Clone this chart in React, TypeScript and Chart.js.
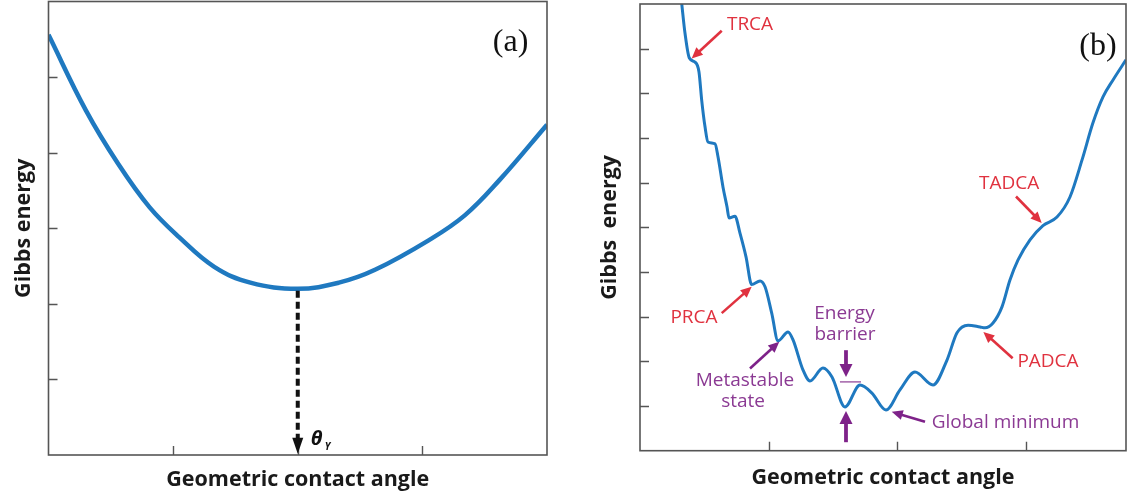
import React, { useEffect, useRef } from 'react';
import { Chart, registerables } from 'chart.js';

Chart.register(...registerables);

// Panel (a): smooth Gibbs energy curve with a single minimum at the Young angle
const angleA = [0, 0.3, 0.56, 0.81, 1.05, 1.33, 1.62, 2.0, 2.33, 2.62, 3.05, 3.34, 3.62, 4.0];
const energyA = [5.56, 4.56, 3.85, 3.28, 2.88, 2.49, 2.28, 2.2, 2.28, 2.45, 2.84, 3.17, 3.64, 4.37];

// Panel (b): rough-surface energy landscape with many metastable states
const angleB = [
  0.325, 0.35, 0.384, 0.428, 0.459, 0.48, 0.506, 0.529, 0.584, 0.607, 0.646, 0.677, 0.693, 0.739,
  0.778, 0.825, 0.869, 0.934, 0.973, 1.025, 1.074, 1.152, 1.191, 1.268, 1.323, 1.424, 1.494, 1.595,
  1.712, 1.805, 1.914, 2.023, 2.14, 2.28, 2.389, 2.467, 2.553, 2.646, 2.685, 2.747, 2.817, 2.879,
  2.942, 3.035, 3.136, 3.245, 3.346, 3.44, 3.525, 3.603, 3.681, 3.782,
];
const energyB = [
  10.0, 9.35, 8.79, 8.7, 8.48, 7.85, 7.25, 6.91, 6.87, 6.58, 5.9, 5.46, 5.21, 5.25,
  4.87, 4.34, 3.72, 3.8, 3.67, 3.08, 2.46, 2.66, 2.48, 1.81, 1.56, 1.85, 1.65, 0.98,
  1.47, 1.29, 0.91, 1.36, 1.76, 1.47, 2.03, 2.64, 2.81, 2.77, 2.75, 2.86, 3.22, 3.82,
  4.27, 4.72, 5.04, 5.23, 5.68, 6.51, 7.34, 7.92, 8.3, 8.75,
];

const xTicksA = [1, 2, 3];
const yTicksA = [1, 2, 3, 4, 5];
const xTicksB = [1, 2, 3];
const yTicksB = [1, 2, 3, 4, 5, 6, 7, 8, 9];

const youngAngle = 2.0;
const youngEnergy = 2.2;

const RED = '#e0323f';
const PURPLE = '#8b3a93';
const PURPLE_DARK = '#7e2289';
const BLUE = '#1f79c0';
const FRAME = '#555555';
const TITLE = '#1a1a1a';
const SANS = '"Open Sans", "Noto Sans", sans-serif';

type Pt = [number, number];
type Label = { text: string; at: Pt; color: string; align?: CanvasTextAlign };
type ArrowDef = { from: Pt; to: Pt; color: string; width: number; head: number; half: number };

const labelsB: Label[] = [
  { text: 'TRCA', at: [0.856, 9.53], color: RED },
  { text: 'PRCA', at: [0.42, 2.97], color: RED },
  { text: 'Metastable', at: [0.817, 1.58], color: PURPLE },
  { text: 'state', at: [0.802, 1.11], color: PURPLE },
  { text: 'Energy', at: [1.591, 3.08], color: PURPLE },
  { text: 'barrier', at: [1.595, 2.59], color: PURPLE },
  { text: 'Global minimum', at: [2.27, 0.64], color: PURPLE, align: 'left' },
  { text: 'PADCA', at: [3.175, 1.99], color: RED },
  { text: 'TADCA', at: [2.872, 5.99], color: RED },
];

const arrowsB: ArrowDef[] = [
  { from: [0.636, 9.4], to: [0.402, 8.78], color: RED, width: 2.6, head: 11, half: 5 },
  { from: [0.636, 3.08], to: [0.869, 3.67], color: RED, width: 2.6, head: 11, half: 5 },
  { from: [0.856, 1.84], to: [1.084, 2.44], color: PURPLE_DARK, width: 2.6, head: 11, half: 5 },
  { from: [2.218, 0.65], to: [1.959, 0.87], color: PURPLE_DARK, width: 2.6, head: 11, half: 5 },
  { from: [2.9, 2.07], to: [2.672, 2.66], color: RED, width: 2.6, head: 11, half: 5 },
  { from: [2.926, 5.69], to: [3.126, 5.1], color: RED, width: 2.6, head: 11, half: 5 },
  { from: [1.603, 2.25], to: [1.603, 1.65], color: PURPLE_DARK, width: 3.8, head: 13, half: 6.5 },
  { from: [1.603, 0.19], to: [1.603, 0.89], color: PURPLE_DARK, width: 3.8, head: 13, half: 6.5 },
];

const barrierLine: [Pt, Pt] = [[1.556, 1.54], [1.72, 1.54]];

function drawArrow(
  ctx: CanvasRenderingContext2D,
  x1: number, y1: number, x2: number, y2: number,
  color: string, width: number, head: number, half: number,
) {
  const ang = Math.atan2(y2 - y1, x2 - x1);
  const bx = x2 - head * Math.cos(ang);
  const by = y2 - head * Math.sin(ang);
  ctx.save();
  ctx.strokeStyle = color;
  ctx.fillStyle = color;
  ctx.lineWidth = width;
  ctx.beginPath();
  ctx.moveTo(x1, y1);
  ctx.lineTo(bx + Math.cos(ang), by + Math.sin(ang));
  ctx.stroke();
  ctx.beginPath();
  ctx.moveTo(x2, y2);
  ctx.lineTo(bx + half * Math.sin(ang), by - half * Math.cos(ang));
  ctx.lineTo(bx - half * Math.sin(ang), by + half * Math.cos(ang));
  ctx.closePath();
  ctx.fill();
  ctx.restore();
}

type PanelOpts = {
  xTicks: number[];
  yTicks: number[];
  tag: string;
  tagAt: Pt;
  yTitle: string;
  yTitleOffset: number;
  xTitleOffset: number;
  extra?: (chart: Chart, px: (v: number) => number, py: (v: number) => number) => void;
};

function framePlugin(o: PanelOpts) {
  return {
    id: 'panelFrame',
    afterDatasetsDraw(chart: Chart) {
      const ctx = chart.ctx;
      const area = chart.chartArea;
      const xs = chart.scales.x;
      const ys = chart.scales.y;
      const px = (v: number) => xs.getPixelForValue(v);
      const py = (v: number) => ys.getPixelForValue(v);

      ctx.save();
      // box frame
      ctx.strokeStyle = FRAME;
      ctx.lineWidth = 1.6;
      ctx.strokeRect(area.left, area.top, area.right - area.left, area.bottom - area.top);
      // inward tick marks
      ctx.lineWidth = 1.4;
      ctx.beginPath();
      o.xTicks.forEach((t) => {
        const x = Math.round(px(t)) + 0.5;
        ctx.moveTo(x, area.bottom);
        ctx.lineTo(x, area.bottom - 9);
      });
      o.yTicks.forEach((t) => {
        const y = Math.round(py(t)) + 0.5;
        ctx.moveTo(area.left, y);
        ctx.lineTo(area.left + 9, y);
      });
      ctx.stroke();

      // axis titles
      ctx.fillStyle = TITLE;
      ctx.font = `bold 21.5px ${SANS}`;
      ctx.textAlign = 'center';
      ctx.textBaseline = 'middle';
      ctx.fillText('Geometric contact angle', (area.left + area.right) / 2, area.bottom + o.xTitleOffset);
      ctx.save();
      ctx.translate(area.left - o.yTitleOffset, (area.top + area.bottom) / 2);
      ctx.rotate(-Math.PI / 2);
      ctx.fillText(o.yTitle, 0, 0);
      ctx.restore();

      // panel tag
      ctx.font = `32px "Liberation Serif", "DejaVu Serif", serif`;
      ctx.fillStyle = '#111';
      ctx.fillText(o.tag, px(o.tagAt[0]), py(o.tagAt[1]));

      if (o.extra) o.extra(chart, px, py);
      ctx.restore();
    },
  };
}

function extraA(chart: Chart, px: (v: number) => number, py: (v: number) => number) {
  const ctx = chart.ctx;
  const x = px(youngAngle);
  const yTop = py(youngEnergy) + 2;
  const yTip = py(0.015);
  ctx.save();
  ctx.strokeStyle = '#111';
  ctx.fillStyle = '#111';
  ctx.lineWidth = 4;
  ctx.setLineDash([7, 4]);
  ctx.beginPath();
  ctx.moveTo(x, yTop);
  ctx.lineTo(x, yTip - 15);
  ctx.stroke();
  ctx.setLineDash([]);
  ctx.beginPath();
  ctx.moveTo(x, yTip);
  ctx.lineTo(x - 5.5, yTip - 16);
  ctx.lineTo(x + 5.5, yTip - 16);
  ctx.closePath();
  ctx.fill();
  // theta_Y label
  ctx.textAlign = 'left';
  ctx.textBaseline = 'alphabetic';
  ctx.font = `italic bold 20px ${SANS}`;
  ctx.fillText('θ', x + 13, py(0) - 10);
  ctx.font = `italic bold 10px ${SANS}`;
  ctx.fillText('Y', x + 27, py(0) - 5);
  ctx.restore();
}

function extraB(chart: Chart, px: (v: number) => number, py: (v: number) => number) {
  const ctx = chart.ctx;
  ctx.save();
  // energy barrier reference line
  ctx.strokeStyle = PURPLE;
  ctx.lineWidth = 1.2;
  ctx.beginPath();
  ctx.moveTo(px(barrierLine[0][0]), py(barrierLine[0][1]));
  ctx.lineTo(px(barrierLine[1][0]), py(barrierLine[1][1]));
  ctx.stroke();
  arrowsB.forEach((a) =>
    drawArrow(ctx, px(a.from[0]), py(a.from[1]), px(a.to[0]), py(a.to[1]), a.color, a.width, a.head, a.half),
  );
  ctx.font = `19px ${SANS}`;
  ctx.textBaseline = 'middle';
  labelsB.forEach((l) => {
    ctx.fillStyle = l.color;
    ctx.textAlign = l.align || 'center';
    ctx.fillText(l.text, px(l.at[0]), py(l.at[1]));
  });
  ctx.restore();
}

function makeConfig(
  xs: number[], ys: number[], xMax: number, yMax: number, lineWidth: number, smooth: 'default' | 'monotone',
  padding: { left: number; right: number; top: number; bottom: number }, opts: PanelOpts,
): any {
  return {
    type: 'line',
    data: {
      datasets: [
        {
          data: xs.map((x, i) => ({ x, y: ys[i] })),
          borderColor: BLUE,
          borderWidth: lineWidth,
          pointRadius: 0,
          fill: false,
          tension: 0.4,
          cubicInterpolationMode: smooth,
        },
      ],
    },
    options: {
      responsive: false,
      maintainAspectRatio: false,
      animation: false,
      layout: { padding },
      plugins: { legend: { display: false }, tooltip: { enabled: false } },
      scales: {
        x: { type: 'linear', min: 0, max: xMax, display: false },
        y: { type: 'linear', min: 0, max: yMax, display: false },
      },
    },
    plugins: [framePlugin(opts)],
  };
}

function Panel({ left, width, config }: { left: number; width: number; config: () => any }) {
  const ref = useRef<HTMLCanvasElement>(null);
  useEffect(() => {
    const chart = new Chart(ref.current as HTMLCanvasElement, config());
    return () => chart.destroy();
  }, []);
  return (
    <canvas
      ref={ref}
      width={width}
      height={497}
      style={{ position: 'absolute', left, top: 0, width, height: 497 }}
    />
  );
}

export default function App() {
  useEffect(() => {
    document.body.style.margin = '0';
    document.body.style.background = '#ffffff';
  }, []);

  const configA = () =>
    makeConfig(angleA, energyA, 4, 6, 4.5, 'default', { left: 48.5, right: 13, top: 1.5, bottom: 42 }, {
      xTicks: xTicksA,
      yTicks: yTicksA,
      tag: '(a)',
      tagAt: [3.708, 5.45],
      yTitle: 'Gibbs energy',
      yTitleOffset: 25,
      xTitleOffset: 25,
      extra: extraA,
    });

  const configB = () =>
    makeConfig(angleB, energyB, 3.782, 10, 3, 'monotone', { left: 80, right: 7, top: 4, bottom: 46.3 }, {
      xTicks: xTicksB,
      yTicks: yTicksB,
      tag: '(b)',
      tagAt: [3.564, 9.04],
      yTitle: 'Gibbs  energy',
      yTitleOffset: 30.5,
      xTitleOffset: 27,
      extra: extraB,
    });

  return (
    <div style={{ position: 'relative', width: 1133, height: 497, background: '#fff' }}>
      <Panel left={0} width={560} config={configA} />
      <Panel left={560} width={573} config={configB} />
    </div>
  );
}
